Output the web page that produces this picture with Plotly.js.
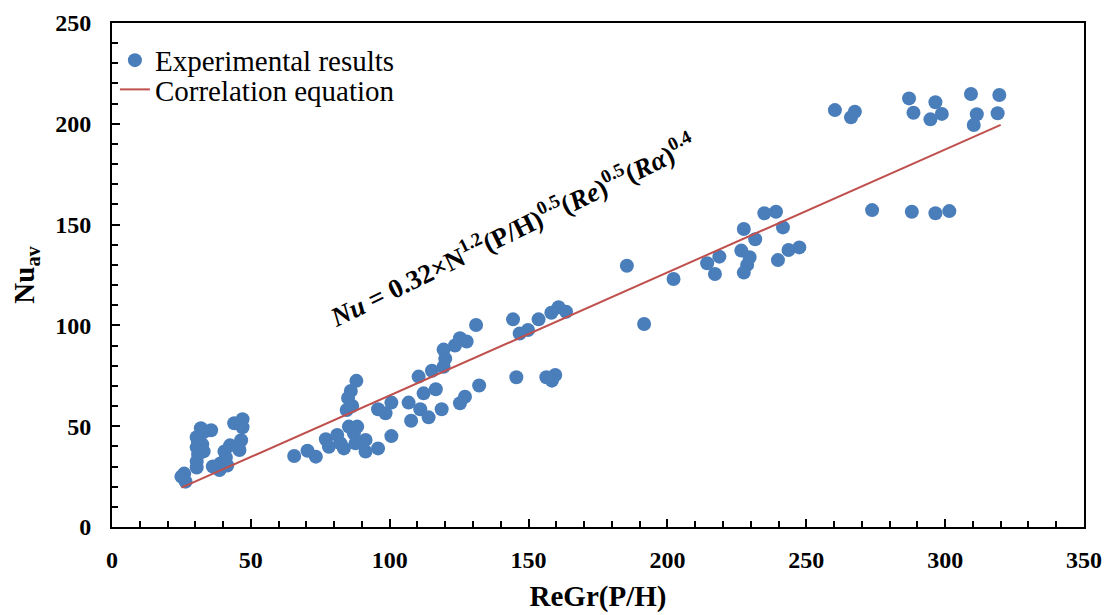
<!DOCTYPE html>
<html>
<head>
<meta charset="utf-8">
<script src="https://cdn.plot.ly/plotly-3.0.1.min.js"></script>
<style>html,body{margin:0;padding:0;background:#fff;}#chart{width:1105px;height:615px;}</style>
</head>
<body>
<div id="chart"></div>
<script>
// Experimental results: ReGr(P/H) values
const expX = [
  25, 26, 26.5,
  30.5, 30.5, 31, 30.5, 31, 30.5, 32, 32.5, 33, 32, 33.5, 35.7,
  36.3, 38.7, 39, 40.5, 41.5, 40.5, 41, 42.5, 45.9, 46.5, 44, 47, 47,
  65.6, 70.4, 73.4, 77, 78.1, 81.1, 82.3, 83.5, 85.3, 88.3, 87.1, 87.7, 91.3, 91.3, 95.8, 100.6,
  84.5, 85, 86, 88, 86.5,
  95.8, 98.5, 100.6, 106.8, 107.7, 111, 114, 112.2, 116.6, 118.7,
  110.4, 115.2, 119.4, 120, 119.4, 123.5, 125.3, 127.7, 125.3, 127.1, 132.2, 131.1,
  144.4, 146.8, 149.8, 153.6, 158.2, 160.8, 163.5, 145.6, 156.4, 158.4, 159.6,
  185.4, 191.6, 202.2,
  214.3, 218.7, 217.1, 226.6, 227.5, 229.6, 228.7, 227.5, 231.6, 234.9, 239.1, 241.6, 239.8, 243.6, 247.5,
  260.3, 267.5, 266.1, 273.7, 287, 288.6, 288, 296.5, 294.7, 298.8, 296.5, 301.5, 309.3, 311.4, 310.3, 319.5, 318.9
];
// Experimental results: Nu_av values
const expY = [
  25, 26.5, 22.5,
  29.5, 32.5, 36, 39.5, 42, 44.5, 46, 41, 37.5, 49, 47.5, 48,
  30, 28.3, 31.5, 31.5, 30.5, 37.5, 34.5, 40.5, 38.2, 43, 51.5, 53.5, 49.5,
  35.2, 37.8, 34.9, 43.5, 39.8, 45.6, 41.5, 39, 49.8, 49.8, 46.5, 41.5, 43.2, 37.4, 39, 45.1,
  58, 64, 67.5, 72.5, 60,
  58.4, 56.4, 61.7, 61.7, 52.7, 58.4, 54.4, 66.3, 68.3, 58.4,
  74.6, 77.5, 79.5, 83.5, 88, 90, 93.6, 92, 61.4, 64.6, 70.2, 100.2,
  103, 96, 97.7, 103, 106.3, 109, 106.8, 74.3, 74.3, 72.6, 75.4,
  129.6, 100.7, 123,
  130.8, 134.1, 125.5, 137.1, 147.8, 133.8, 130, 126.2, 142.7, 155.6, 156.4, 148.6, 132.4, 137.4, 138.7,
  206.8, 206, 203.2, 157.2, 212.6, 205.5, 156.4, 210.7, 202.2, 204.9, 155.6, 156.7, 214.8, 204.7, 199.4, 214.3, 205.2
];
// Correlation equation line
const corrX = [25, 320];
const corrY = [19.5, 199.5];

const serif = 'Liberation Serif, Times New Roman, serif';

const traces = [
  {
    x: expX, y: expY, type: 'scatter', mode: 'markers',
    name: 'Experimental results', legend: 'legend',
    marker: {color: '#4A7EBB', size: 14, line: {width: 0}}
  },
  {
    x: corrX, y: corrY, type: 'scatter', mode: 'lines',
    name: 'Correlation equation', legend: 'legend2',
    line: {color: '#C0504D', width: 2}
  }
];

const axisCommon = {
  showgrid: false, zeroline: false,
  showline: true, linecolor: '#000', linewidth: 2, mirror: true,
  ticks: 'inside', ticklen: 8, tickwidth: 2, tickcolor: '#000',
  tickfont: {family: serif, size: 24, color: '#000', weight: 'bold'}
};

const layout = {
  width: 1105, height: 615,
  margin: {l: 112, r: 21, t: 23, b: 88},
  paper_bgcolor: '#fff', plot_bgcolor: '#fff',
  showlegend: true,
  xaxis: Object.assign({}, axisCommon, {
    range: [0, 350], dtick: 50, tick0: 0,
    minor: {dtick: 10, ticks: 'inside', ticklen: 6, tickwidth: 2, tickcolor: '#000'},
    ticklabelstandoff: 10,
    title: {text: '<b>ReGr(P/H)</b>', font: {family: serif, size: 29, color: '#000'}, standoff: 14}
  }),
  yaxis: Object.assign({}, axisCommon, {
    range: [0, 250], dtick: 50, tick0: 0,
    minor: {dtick: 10, ticks: 'inside', ticklen: 6, tickwidth: 2, tickcolor: '#000'},
    ticklabelstandoff: 14,
    title: {text: '<b>Nu<sub>av</sub></b>', font: {family: serif, size: 29, color: '#000'}, standoff: 12}
  }),
  legend: {
    x: 0.003, xanchor: 'left', y: 0.926, yanchor: 'middle',
    bgcolor: 'rgba(0,0,0,0)', borderwidth: 0,
    font: {family: serif, size: 29, color: '#000'}
  },
  legend2: {
    x: 0.003, xanchor: 'left', y: 0.868, yanchor: 'middle',
    bgcolor: 'rgba(0,0,0,0)', borderwidth: 0,
    font: {family: serif, size: 29, color: '#000'}
  },
  annotations: [{
    xref: 'x', yref: 'y', x: 144, y: 148, showarrow: false,
    textangle: -26,
    text: '<b><i>Nu</i> = 0.32×N<sup>1.2</sup>(P/H)<sup>0.5</sup>(<i>Re</i>)<sup>0.5</sup>(<i>Rα</i>)<sup>0.4</sup></b>',
    font: {family: serif, size: 27, color: '#000'}
  }]
};

Plotly.newPlot('chart', traces, layout, {displayModeBar: false, staticPlot: true});
</script>
</body>
</html>
